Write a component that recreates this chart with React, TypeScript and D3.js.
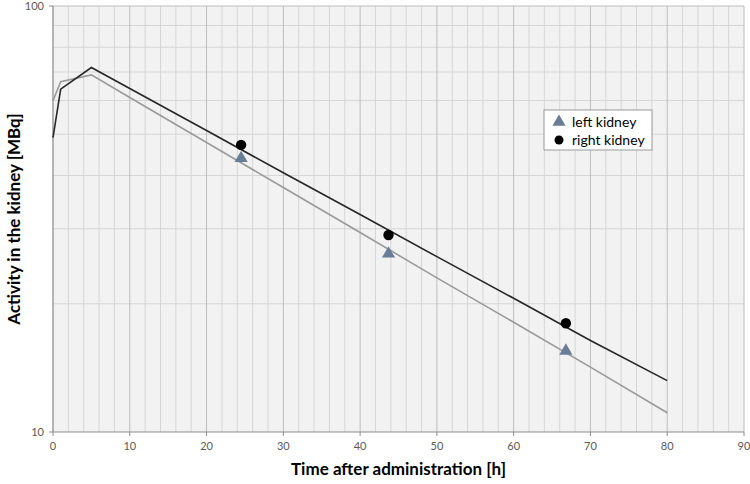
import React from 'react'
import * as d3 from 'd3'

// fitted curves
const fitHours = [0, 1, 5, 10, 20, 30, 40, 50, 60, 70, 80]
const rightFit = [49.1, 63.8, 71.7, 64.0, 51.0, 40.6, 32.4, 25.8, 20.6, 16.4, 13.2]
const leftFit = [59.9, 66.4, 68.9, 61.0, 47.8, 37.5, 29.4, 23.0, 18.1, 14.2, 11.1]

// measured points
const measHours = [24.5, 43.7, 66.8]
const rightMeas = [47.2, 29.0, 18.0]
const leftMeas = [43.9, 26.2, 15.5]

const xTicks = [0, 10, 20, 30, 40, 50, 60, 70, 80, 90]
const yTicks = [10, 100]

const W = 750
const H = 484
const margin = { top: 6, right: 6, bottom: 52, left: 53 }

const FONT = 'Lato, "Open Sans", sans-serif'

const App: React.FC = () => {
  const x = d3.scaleLinear().domain([0, 90]).range([margin.left, W - margin.right])
  const y = d3.scaleLog().domain([10, 100]).range([H - margin.bottom, margin.top])

  const line = d3
    .line<number>()
    .x((_, i) => x(fitHours[i]))
    .y((d) => y(d))

  const minorX = d3.range(0, 91, 2)
  const minorY = d3.range(20, 100, 10)

  const tri = d3.symbol().type(d3.symbolTriangle).size(75)()

  const legX = 544
  const legY = 110

  return (
    <div style={{ position: 'fixed', left: 0, top: 0 }}>
      <svg width={W} height={H} style={{ display: 'block', background: '#fff' }}>
        <rect
          x={x(0)}
          y={y(100)}
          width={x(90) - x(0)}
          height={y(10) - y(100)}
          fill="#f2f2f2"
        />
        {minorY.map((v) => (
          <line key={'hy' + v} x1={x(0)} x2={x(90)} y1={y(v)} y2={y(v)} stroke="#d6d6d6" strokeWidth={1} />
        ))}
        {minorX.map((v) => (
          <line
            key={'vx' + v}
            x1={x(v)}
            x2={x(v)}
            y1={y(100)}
            y2={y(10)}
            stroke={v % 10 === 0 ? '#bdbdbd' : '#d6d6d6'}
            strokeWidth={1}
          />
        ))}
        <line x1={x(0)} x2={x(90)} y1={y(100)} y2={y(100)} stroke="#bdbdbd" />

        {/* axes */}
        <line x1={x(0)} x2={x(0)} y1={y(100)} y2={y(10)} stroke="#8c8c8c" />
        <line x1={x(0)} x2={x(90)} y1={y(10)} y2={y(10)} stroke="#8c8c8c" />
        {xTicks.map((t) => (
          <g key={'xt' + t}>
            <line x1={x(t)} x2={x(t)} y1={y(10)} y2={y(10) + 4} stroke="#8c8c8c" />
            <text
              x={x(t)}
              y={y(10) + 18}
              textAnchor="middle"
              fontFamily={FONT}
              fontSize={11}
              fill="#595959"
            >
              {t}
            </text>
          </g>
        ))}
        {yTicks.map((t) => (
          <g key={'yt' + t}>
            <line x1={x(0) - 4} x2={x(0)} y1={y(t)} y2={y(t)} stroke="#8c8c8c" />
            <text
              x={x(0) - 9}
              y={y(t)}
              dy="0.35em"
              textAnchor="end"
              fontFamily={FONT}
              fontSize={11}
              fill="#595959"
            >
              {t}
            </text>
          </g>
        ))}

        {/* fitted curves */}
        <path d={line(leftFit) ?? ''} fill="none" stroke="#9a9a9a" strokeWidth={1.6} />
        <path d={line(rightFit) ?? ''} fill="none" stroke="#262626" strokeWidth={1.6} />

        {/* measurements */}
        {measHours.map((h, i) => (
          <path
            key={'l' + i}
            d={tri ?? ''}
            transform={`translate(${x(h)},${y(leftMeas[i])})`}
            fill="#6a7d96"
          />
        ))}
        {measHours.map((h, i) => (
          <circle key={'r' + i} cx={x(h)} cy={y(rightMeas[i])} r={5.2} fill="#000" />
        ))}

        {/* legend */}
        <rect x={legX} y={legY} width={108} height={40} fill="#fff" stroke="#9a9a9a" strokeWidth={1} />
        <path d={tri ?? ''} transform={`translate(${legX + 15},${legY + 12})`} fill="#6a7d96" />
        <text x={legX + 28} y={legY + 12} dy="0.35em" fontFamily={FONT} fontSize={14} fill="#000">
          left kidney
        </text>
        <circle cx={legX + 15} cy={legY + 30} r={4.5} fill="#000" />
        <text x={legX + 28} y={legY + 30} dy="0.35em" fontFamily={FONT} fontSize={14} fill="#000">
          right kidney
        </text>

        {/* axis titles */}
        <text
          x={(x(0) + x(90)) / 2}
          y={475}
          textAnchor="middle"
          fontFamily={FONT}
          fontWeight="bold"
          fontSize={17}
          fill="#000"
        >
          Time after administration [h]
        </text>
        <text
          transform={`translate(14,${(y(10) + y(100)) / 2}) rotate(-90)`}
          textAnchor="middle"
          dy="0.35em"
          fontFamily={FONT}
          fontWeight="bold"
          fontSize={17}
          fill="#000"
        >
          Activity in the kidney [MBq]
        </text>
      </svg>
    </div>
  )
}

export default App
